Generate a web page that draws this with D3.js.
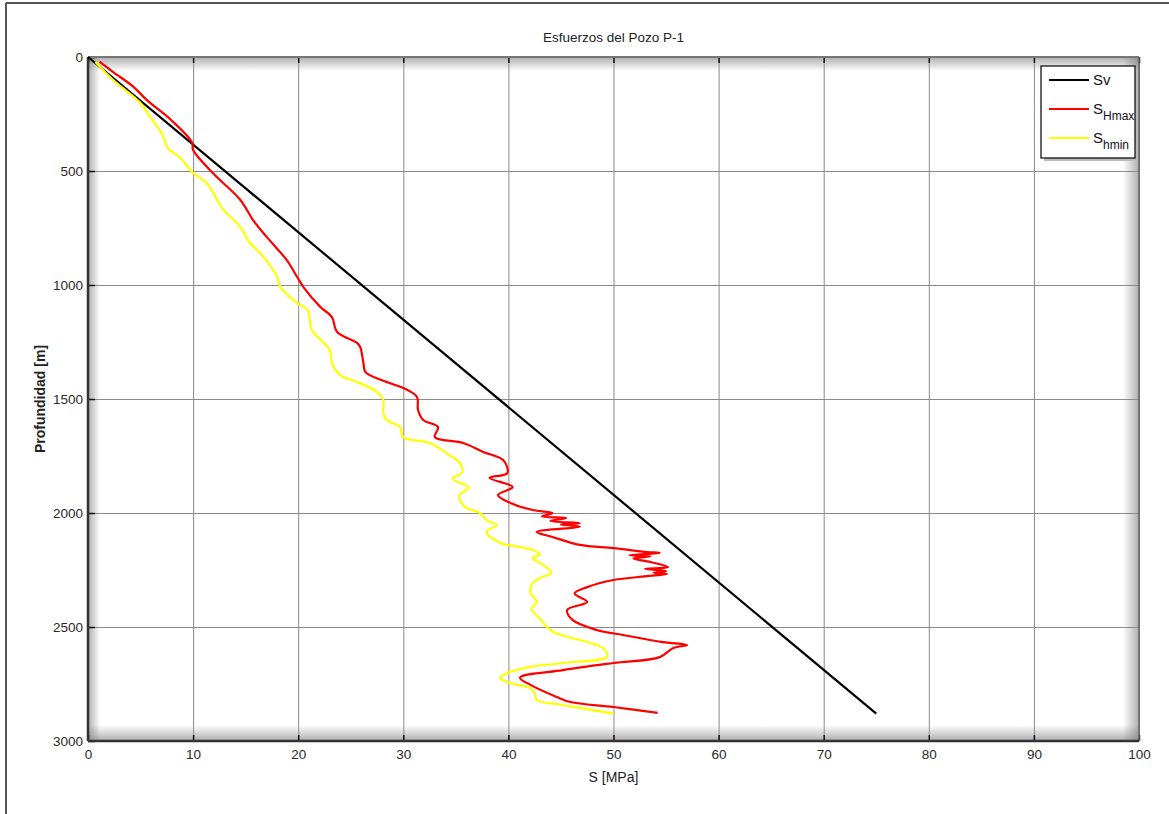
<!DOCTYPE html>
<html>
<head>
<meta charset="utf-8">
<script src="https://cdn.jsdelivr.net/npm/d3@7"></script>
<style>
  body { margin: 0; background: #fff; }
  svg text { font-family: "Liberation Sans", Arial, sans-serif; }
  .grid line { stroke: #8a8a8a; stroke-width: 1; }
  .grid path { display: none; }
  .tick-lbl path, .tick-lbl line { display: none; }
  .tick-lbl text { fill: #2a2a2a; font-size: 13.5px; }
</style>
</head>
<body>
<div id="vis"></div>
<script>
// Constants for the figure
const FRAME_WIDTH = 1169;
const FRAME_HEIGHT = 814;
const MARGINS = {left: 88, right: 30, top: 57, bottom: 73};
const VIS_WIDTH = FRAME_WIDTH - (MARGINS.left + MARGINS.right);
const VIS_HEIGHT = FRAME_HEIGHT - (MARGINS.top + MARGINS.bottom);

// data (S in MPa, depth in m)
const X_TICKS = [0, 10, 20, 30, 40, 50, 60, 70, 80, 90, 100];
const Y_TICKS = [0, 500, 1000, 1500, 2000, 2500, 3000];

const SV_S = [0, 75];
const SV_DEPTH = [0, 2880];

const SHMAX_S = [1.1, 2.4, 4.3, 5.6, 7.9, 9.9, 10.0, 11.9, 14.5, 15.7, 17.0, 18.9, 19.9, 20.5, 22.1, 23.2, 23.7, 25.6, 25.9, 26.2, 26.4, 28.1, 30.0, 31.3, 31.4, 31.9, 33.3, 33.0, 35.7, 37.6, 39.5, 39.9, 38.2, 40.4, 39.0, 40.2, 42.3, 44.2, 43.2, 45.5, 44.0, 46.8, 45.0, 46.8, 42.7, 44.2, 46.8, 50.0, 53.2, 54.4, 51.5, 53.5, 51.9, 53.5, 55.2, 53.0, 55.0, 53.8, 55.1, 53.0, 50.0, 47.5, 46.3, 47.5, 45.6, 46.1, 48.4, 50.9, 54.7, 57.0, 55.7, 54.4, 50.0, 45.2, 41.1, 42.1, 44.6, 45.9, 50.0, 54.2];
const SHMAX_DEPTH = [20, 66, 130, 189, 276, 375, 408, 510, 627, 715, 789, 890, 965, 1009, 1096, 1140, 1206, 1254, 1272, 1340, 1382, 1420, 1452, 1491, 1548, 1592, 1623, 1667, 1693, 1732, 1768, 1825, 1846, 1886, 1921, 1956, 1987, 2000, 2015, 2022, 2035, 2045, 2050, 2060, 2083, 2105, 2140, 2154, 2171, 2175, 2185, 2190, 2200, 2215, 2237, 2245, 2255, 2262, 2268, 2278, 2294, 2325, 2353, 2390, 2425, 2469, 2513, 2535, 2566, 2579, 2592, 2632, 2658, 2689, 2722, 2754, 2807, 2829, 2851, 2877];

const SHMIN_S = [0.7, 2.4, 5.0, 5.9, 7.0, 7.6, 8.8, 10.0, 11.3, 12.8, 14.5, 15.4, 16.4, 18.0, 18.3, 19.9, 20.9, 21.3, 23.0, 23.2, 24.0, 25.6, 27.5, 28.1, 28.1, 28.4, 29.7, 30.0, 32.5, 34.4, 35.4, 35.6, 34.7, 36.2, 35.3, 35.9, 37.3, 37.9, 38.9, 37.9, 39.2, 41.1, 42.3, 43.0, 42.3, 43.3, 44.1, 43.0, 42.3, 42.1, 42.7, 42.2, 43.0, 44.2, 47.5, 49.0, 49.4, 45.2, 42.1, 39.9, 39.2, 40.2, 42.1, 42.5, 42.7, 45.2, 50.0];
const SHMIN_DEPTH = [22, 101, 202, 263, 333, 399, 443, 509, 553, 665, 746, 816, 860, 965, 1009, 1079, 1110, 1197, 1285, 1342, 1395, 1425, 1469, 1504, 1561, 1592, 1623, 1667, 1693, 1746, 1781, 1822, 1850, 1888, 1925, 1974, 2000, 2031, 2053, 2083, 2130, 2149, 2162, 2184, 2197, 2228, 2262, 2285, 2307, 2351, 2390, 2420, 2465, 2520, 2566, 2592, 2630, 2658, 2675, 2702, 2724, 2746, 2768, 2789, 2820, 2842, 2880];

const SERIES = [
    {name: "Sv", sub: "", s: SV_S, depth: SV_DEPTH, color: "#000000"},
    {name: "S", sub: "Hmax", s: SHMAX_S, depth: SHMAX_DEPTH, color: "#ff0000"},
    {name: "S", sub: "hmin", s: SHMIN_S, depth: SHMIN_DEPTH, color: "#ffff00"}
];

const FRAME = d3.select("#vis")
    .append("svg")
    .attr("width", FRAME_WIDTH)
    .attr("height", FRAME_HEIGHT);

// outer figure border (top and left only are visible)
FRAME.append("line").attr("x1", 6).attr("y1", 3).attr("x2", FRAME_WIDTH).attr("y2", 3)
    .attr("stroke", "#555").attr("stroke-width", 2);
FRAME.append("line").attr("x1", 6).attr("y1", 3).attr("x2", 6).attr("y2", FRAME_HEIGHT)
    .attr("stroke", "#555").attr("stroke-width", 2);

const X_SCALE = d3.scaleLinear().domain([0, 100]).range([0, VIS_WIDTH]);
const Y_SCALE = d3.scaleLinear().domain([0, 3000]).range([0, VIS_HEIGHT]);

const PLOT = FRAME.append("g")
    .attr("transform", "translate(" + MARGINS.left + "," + MARGINS.top + ")");

// soft shadow gradients along the inside of the axes box
const defs = FRAME.append("defs");
function shade(id, x1, y1, x2, y2) {
    const g = defs.append("linearGradient").attr("id", id)
        .attr("x1", x1).attr("y1", y1).attr("x2", x2).attr("y2", y2);
    g.append("stop").attr("offset", "0%").attr("stop-color", "#777").attr("stop-opacity", 0.6);
    g.append("stop").attr("offset", "100%").attr("stop-color", "#777").attr("stop-opacity", 0);
}
shade("shTop", 0, 0, 0, 1);
shade("shLeft", 0, 0, 1, 0);
shade("shBottom", 0, 1, 0, 0);
shade("shRight", 1, 0, 0, 0);
PLOT.append("rect").attr("width", VIS_WIDTH).attr("height", 14).attr("fill", "url(#shTop)");
PLOT.append("rect").attr("width", 12).attr("height", VIS_HEIGHT).attr("fill", "url(#shLeft)");
PLOT.append("rect").attr("y", VIS_HEIGHT - 16).attr("width", VIS_WIDTH).attr("height", 16).attr("fill", "url(#shBottom)");
PLOT.append("rect").attr("x", VIS_WIDTH - 16).attr("width", 16).attr("height", VIS_HEIGHT).attr("fill", "url(#shRight)");

// grid lines
PLOT.append("g").attr("class", "grid")
    .attr("transform", "translate(0," + VIS_HEIGHT + ")")
    .call(d3.axisBottom(X_SCALE).tickValues(X_TICKS).tickSize(-VIS_HEIGHT).tickFormat(""));
PLOT.append("g").attr("class", "grid")
    .call(d3.axisLeft(Y_SCALE).tickValues(Y_TICKS).tickSize(-VIS_WIDTH).tickFormat(""));

// small inward tick marks
PLOT.append("g").attr("transform", "translate(0," + VIS_HEIGHT + ")")
    .call(d3.axisBottom(X_SCALE).tickValues(X_TICKS).tickSize(-6).tickFormat(""))
    .call(g => g.select(".domain").remove())
    .selectAll("line").attr("stroke", "#111").attr("stroke-width", 1.5);
PLOT.append("g")
    .call(d3.axisTop(X_SCALE).tickValues(X_TICKS).tickSize(-6).tickFormat(""))
    .call(g => g.select(".domain").remove())
    .selectAll("line").attr("stroke", "#111").attr("stroke-width", 1.5);
PLOT.append("g")
    .call(d3.axisLeft(Y_SCALE).tickValues(Y_TICKS).tickSize(-7).tickFormat(""))
    .call(g => g.select(".domain").remove())
    .selectAll("line").attr("stroke", "#111").attr("stroke-width", 1.5);

// tick labels
PLOT.append("g").attr("class", "tick-lbl")
    .attr("transform", "translate(0," + VIS_HEIGHT + ")")
    .call(d3.axisBottom(X_SCALE).tickValues(X_TICKS).tickSize(0).tickPadding(8).tickFormat(d3.format("d")));
PLOT.append("g").attr("class", "tick-lbl")
    .call(d3.axisLeft(Y_SCALE).tickValues(Y_TICKS).tickSize(0).tickPadding(5).tickFormat(d3.format("d")));

// axes box
PLOT.append("line").attr("x1", 0).attr("y1", 0).attr("x2", VIS_WIDTH).attr("y2", 0)
    .attr("stroke", "#777").attr("stroke-width", 2);
PLOT.append("line").attr("x1", VIS_WIDTH).attr("y1", 0).attr("x2", VIS_WIDTH).attr("y2", VIS_HEIGHT)
    .attr("stroke", "#666").attr("stroke-width", 1.5);
PLOT.append("line").attr("x1", 0).attr("y1", 0).attr("x2", 0).attr("y2", VIS_HEIGHT)
    .attr("stroke", "#333").attr("stroke-width", 2.5);
PLOT.append("line").attr("x1", 0).attr("y1", VIS_HEIGHT).attr("x2", VIS_WIDTH).attr("y2", VIS_HEIGHT)
    .attr("stroke", "#333").attr("stroke-width", 2.5);

// stress curves
const LINE = d3.line()
    .x((d) => { return X_SCALE(d[0]); })
    .y((d) => { return Y_SCALE(d[1]); })
    .curve(d3.curveCatmullRom.alpha(0.5));

SERIES.forEach((s) => {
    PLOT.append("path")
        .datum(s.s.map((v, i) => [v, s.depth[i]]))
        .attr("d", LINE)
        .attr("fill", "none")
        .attr("stroke", s.color)
        .attr("stroke-width", 2.2)
        .attr("stroke-linejoin", "round");
});

// title and axis labels
FRAME.append("text")
    .attr("x", MARGINS.left + VIS_WIDTH / 2).attr("y", 42)
    .attr("text-anchor", "middle").attr("font-size", "13.5px").attr("fill", "#222")
    .text("Esfuerzos del Pozo P-1");
FRAME.append("text")
    .attr("x", MARGINS.left + VIS_WIDTH / 2).attr("y", 782)
    .attr("text-anchor", "middle").attr("font-size", "14px").attr("fill", "#222")
    .text("S [MPa]");
FRAME.append("text")
    .attr("transform", "translate(45," + (MARGINS.top + VIS_HEIGHT / 2) + ") rotate(-90)")
    .attr("text-anchor", "middle").attr("font-size", "14px").attr("font-weight", "bold").attr("fill", "#222")
    .text("Profundidad [m]");

// legend
const LEG = FRAME.append("g").attr("transform", "translate(1041,66)");
LEG.append("rect").attr("x", 3).attr("y", 3).attr("width", 94).attr("height", 92).attr("fill", "#bbb");
LEG.append("rect").attr("width", 94).attr("height", 92)
    .attr("fill", "#fff").attr("stroke", "#000").attr("stroke-width", 1.2);
SERIES.forEach((s, i) => {
    const y = 14 + i * 29;
    LEG.append("line").attr("x1", 8).attr("x2", 48).attr("y1", y).attr("y2", y)
        .attr("stroke", s.color).attr("stroke-width", 2);
    const t = LEG.append("text").attr("x", 52).attr("y", y + 5)
        .attr("font-size", "15px").attr("fill", "#111");
    t.append("tspan").text(s.name);
    if (s.sub) {
        t.append("tspan").attr("dy", 6).attr("font-size", "12px").text(s.sub);
    }
});
</script>
</body>
</html>
